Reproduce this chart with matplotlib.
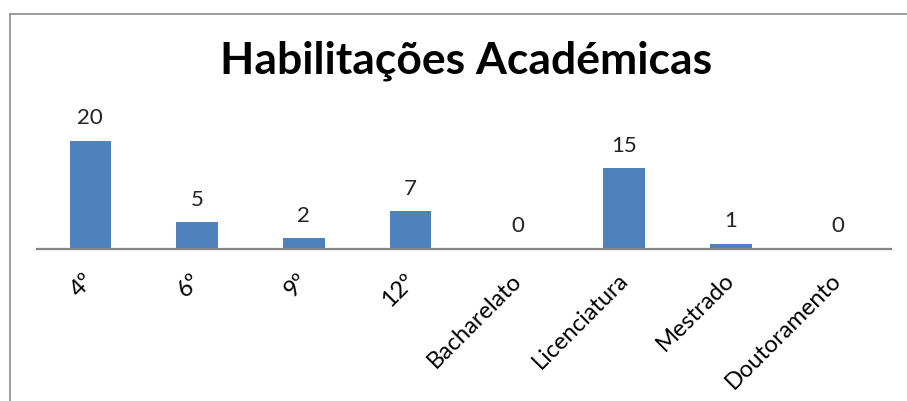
import matplotlib.pyplot as plt
from matplotlib.lines import Line2D
from matplotlib.transforms import ScaledTranslation

categorias = ['4º', '6º', '9º', '12º', 'Bacharelato', 'Licenciatura', 'Mestrado', 'Doutoramento']
valores = [20, 5, 2, 7, 0, 15, 1, 0]
titulo = 'Habilitações Académicas'

plt.rcParams['font.family'] = ['Lato', 'DejaVu Sans']

W, H = 907, 401
fig = plt.figure(figsize=(W / 100, H / 100), dpi=100)

# moldura da área do gráfico (só esquerda e topo visíveis)
cinza = '#8c8c8c'
fig.add_artist(Line2D([9.5 / W, 9.5 / W], [0, 1 - 13.5 / H], transform=fig.transFigure, color=cinza, lw=1.2))
fig.add_artist(Line2D([9.5 / W, 1], [1 - 13.5 / H, 1 - 13.5 / H], transform=fig.transFigure, color=cinza, lw=1.2))

ax = fig.add_axes([37 / W, 152 / H, 854 / W, 118.8 / H])
x = range(len(categorias))
barras = ax.bar(x, valores, width=0.39, color='#4f81bd')
ax.set_xlim(-0.5, len(categorias) - 0.5)
ax.set_ylim(0, 22)

for b, v in zip(barras, valores):
    ax.annotate(str(v), (b.get_x() + b.get_width() / 2, v), xytext=(0, 9),
                textcoords='offset points', ha='center', va='bottom', fontsize=16, color='#222222')

for s in ['top', 'right', 'left']:
    ax.spines[s].set_visible(False)
ax.spines['bottom'].set_color('#868686')
ax.spines['bottom'].set_linewidth(1.6)
ax.set_yticks([])
ax.set_xticks(list(x))
ax.set_xticklabels(categorias, rotation=45, ha='right', rotation_mode='anchor', fontsize=17)
ax.tick_params(axis='x', length=0, pad=15)
desloc = ScaledTranslation(-7 / 100, 0, fig.dpi_scale_trans)
for t in ax.get_xticklabels():
    t.set_transform(t.get_transform() + desloc)

fig.text(466 / W, 1 - 61 / H, titulo, ha='center', va='center', fontsize=32, fontweight='bold')

fig.savefig('out.png', dpi=100)
